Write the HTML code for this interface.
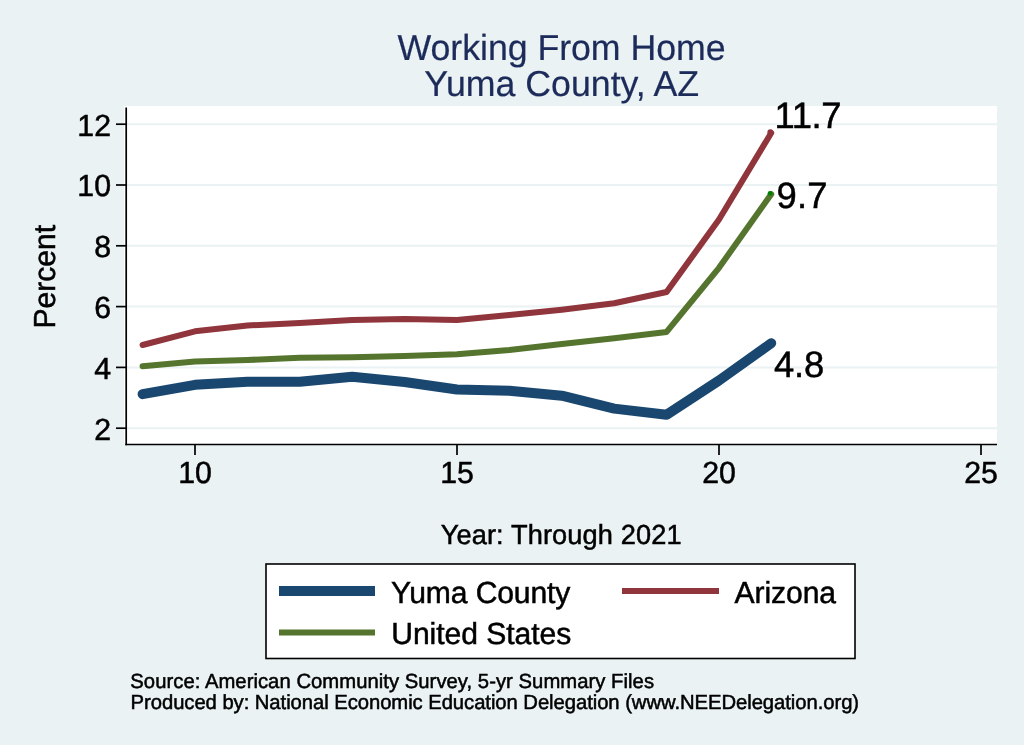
<!DOCTYPE html>
<html><head><meta charset="utf-8"><style>
html,body{margin:0;padding:0;background:#eaf2f3;overflow:hidden;}
svg{display:block;text-rendering:geometricPrecision;font-family:"Liberation Sans",Arial,Helvetica,sans-serif;}
</style></head><body>
<svg width="1024" height="745" viewBox="0 0 1024 745">
<rect x="0" y="0" width="1024" height="745" fill="#eaf2f3"/>
<rect x="124" y="106" width="873" height="339" fill="#ffffff"/>
<g stroke="#eaf2f3" stroke-width="2"><line x1="127" x2="997" y1="428.2" y2="428.2"/><line x1="127" x2="997" y1="367.4" y2="367.4"/><line x1="127" x2="997" y1="306.6" y2="306.6"/><line x1="127" x2="997" y1="245.8" y2="245.8"/><line x1="127" x2="997" y1="185.0" y2="185.0"/><line x1="127" x2="997" y1="124.2" y2="124.2"/></g>
<g fill="none" stroke-linejoin="round" stroke-linecap="round">
<polyline points="142.6,345.0 195.0,331.3 247.4,325.5 299.8,322.9 352.2,320.1 404.6,318.9 457.0,319.9 509.4,315.1 561.8,309.7 614.2,303.3 666.6,292.0 719.0,219.5 771.2,133.0" stroke="#90353b" stroke-width="6"/>
<polyline points="142.6,366.3 195.0,361.6 247.4,360.0 299.8,357.7 352.2,357.2 404.6,356.1 457.0,354.3 509.4,349.9 561.8,344.1 614.2,338.3 666.6,331.9 719.0,267.8 771.2,194.2" stroke="#55752f" stroke-width="6"/>
<polyline points="142.6,394.2 195.0,384.8 247.4,381.7 299.8,381.7 352.2,376.8 404.6,382.0 457.0,389.5 509.4,390.7 561.8,395.7 614.2,408.6 666.6,414.8 719.0,380.5 771.2,343.2" stroke="#1a476f" stroke-width="10"/>
</g>
<circle cx="770.4" cy="132.2" r="3.0" fill="#90353b"/>
<circle cx="770.1" cy="193.3" r="2.4" fill="#008000"/>
<g stroke="#000" stroke-width="1.7" fill="none">
<line x1="126.2" y1="107.6" x2="126.2" y2="445.3"/>
<line x1="125.35" y1="444.5" x2="997" y2="444.5"/>
<line x1="116" x2="126" y1="428.2" y2="428.2"/><line x1="116" x2="126" y1="367.4" y2="367.4"/><line x1="116" x2="126" y1="306.6" y2="306.6"/><line x1="116" x2="126" y1="245.8" y2="245.8"/><line x1="116" x2="126" y1="185.0" y2="185.0"/><line x1="116" x2="126" y1="124.2" y2="124.2"/><line x1="195.0" x2="195.0" y1="444" y2="455"/><line x1="457.0" x2="457.0" y1="444" y2="455"/><line x1="719.0" x2="719.0" y1="444" y2="455"/><line x1="981.0" x2="981.0" y1="444" y2="455"/>
</g>
<text transform="translate(111.0,439.6) scale(1,1.01)" font-size="30.3" fill="#000" stroke="#000" stroke-width="0.5" text-anchor="end">2</text><text transform="translate(111.0,378.8) scale(1,1.01)" font-size="30.3" fill="#000" stroke="#000" stroke-width="0.5" text-anchor="end">4</text><text transform="translate(111.0,318.0) scale(1,1.01)" font-size="30.3" fill="#000" stroke="#000" stroke-width="0.5" text-anchor="end">6</text><text transform="translate(111.0,257.2) scale(1,1.01)" font-size="30.3" fill="#000" stroke="#000" stroke-width="0.5" text-anchor="end">8</text><text transform="translate(111.0,196.4) scale(1,1.01)" font-size="30.3" fill="#000" stroke="#000" stroke-width="0.5" text-anchor="end">10</text><text transform="translate(111.0,135.6) scale(1,1.01)" font-size="30.3" fill="#000" stroke="#000" stroke-width="0.5" text-anchor="end">12</text><text transform="translate(195.0,483.3) scale(1,1.01)" font-size="30.3" fill="#000" stroke="#000" stroke-width="0.5" text-anchor="middle">10</text><text transform="translate(457.0,483.3) scale(1,1.01)" font-size="30.3" fill="#000" stroke="#000" stroke-width="0.5" text-anchor="middle">15</text><text transform="translate(719.0,483.3) scale(1,1.01)" font-size="30.3" fill="#000" stroke="#000" stroke-width="0.5" text-anchor="middle">20</text><text transform="translate(981.0,483.3) scale(1,1.01)" font-size="30.3" fill="#000" stroke="#000" stroke-width="0.5" text-anchor="middle">25</text><text transform="translate(774.52,128.0) scale(1,1.005)" font-size="36.4" fill="#000" stroke="#000" stroke-width="0.5" textLength="67.07" lengthAdjust="spacing">11.7</text><text transform="translate(776.43,207.7) scale(1,1.005)" font-size="36.4" fill="#000" stroke="#000" stroke-width="0.5" textLength="51.09" lengthAdjust="spacing">9.7</text><text transform="translate(774.02,376.7) scale(1,1.005)" font-size="36.4" fill="#000" stroke="#000" stroke-width="0.5" textLength="50.26" lengthAdjust="spacing">4.8</text><text transform="translate(397.5,59.9) scale(1,1.012)" font-size="35.75" fill="#1c2b5a" stroke="#1c2b5a" stroke-width="0.2" textLength="328.09" lengthAdjust="spacing">Working From Home</text><text transform="translate(424.16,95.9) scale(1,1.012)" font-size="35.75" fill="#1c2b5a" stroke="#1c2b5a" stroke-width="0.2" textLength="275.03" lengthAdjust="spacing">Yuma County, AZ</text><text transform="translate(54.5,328.62) rotate(-90) scale(1,1.012)" font-size="30.1" fill="#000" stroke="#000" stroke-width="0.5">Percent</text><text transform="translate(440.66,544.0) scale(1,1.012)" font-size="27.2" fill="#000" stroke="#000" stroke-width="0.5" textLength="240.91" lengthAdjust="spacing">Year: Through 2021</text><text transform="translate(130.31,687.9) scale(1,1.012)" font-size="20.25" fill="#000" stroke="#000" stroke-width="0.5" textLength="523.71" lengthAdjust="spacing">Source: American Community Survey, 5-yr Summary Files</text><text transform="translate(130.6,708.7) scale(1,1.012)" font-size="20.25" fill="#000" stroke="#000" stroke-width="0.5" textLength="728.51" lengthAdjust="spacing">Produced by: National Economic Education Delegation (www.NEEDelegation.org)</text>
<rect x="266" y="564" width="589" height="94.5" fill="#fff" stroke="#000" stroke-width="1.6"/>
<line x1="279" x2="375" y1="591" y2="591" stroke="#1a476f" stroke-width="10"/>
<line x1="279" x2="375" y1="632.5" y2="632.5" stroke="#55752f" stroke-width="6"/>
<line x1="622" x2="719" y1="591" y2="591" stroke="#90353b" stroke-width="6"/>
<text transform="translate(390.98,602.8) scale(1,1.012)" font-size="30.1" fill="#000" stroke="#000" stroke-width="0.5" textLength="179.41" lengthAdjust="spacing">Yuma County</text><text transform="translate(391.21,643.8) scale(1,1.012)" font-size="30.1" fill="#000" stroke="#000" stroke-width="0.5" textLength="180.15" lengthAdjust="spacing">United States</text><text transform="translate(734.43,603.2) scale(1,1.012)" font-size="30.1" fill="#000" stroke="#000" stroke-width="0.5" textLength="101.63" lengthAdjust="spacing">Arizona</text>
</svg>
</body></html>
